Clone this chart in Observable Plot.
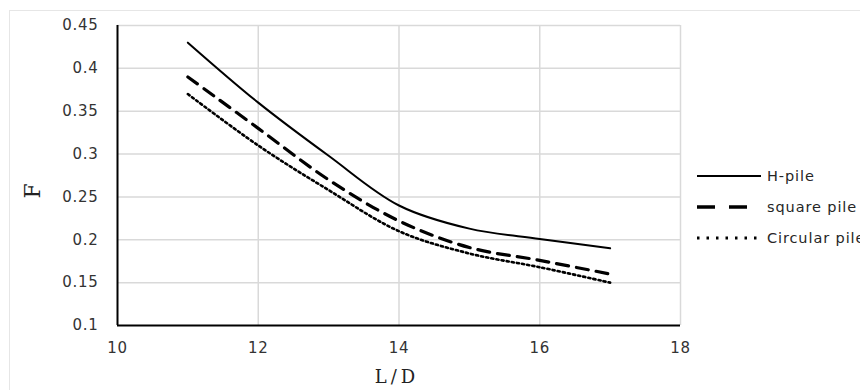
<!DOCTYPE html>
<html>
<head>
<meta charset="utf-8">
<script src="https://cdn.jsdelivr.net/npm/d3@7"></script>
<script src="https://cdn.jsdelivr.net/npm/@observablehq/plot@0.6"></script>
<style>
  html, body { margin: 0; padding: 0; background: #fff; }
  #wrap { position: relative; width: 860px; height: 390px; overflow: hidden; }
  #frame { position: absolute; left: 9px; top: 10px; width: 900px; height: 420px; border: 1px solid #e6e6e6; box-sizing: border-box; }
  #chart { position: absolute; left: 0; top: 0; }
  #legend { position: absolute; left: 697px; top: 160px; font-family: "DejaVu Sans", sans-serif; font-size: 14.5px; letter-spacing: 0.9px; color: #262626; white-space: nowrap; }
  .item { display: flex; align-items: center; height: 31px; }
  .item svg { margin-right: 6px; }
</style>
</head>
<body>
<div id="wrap">
  <div id="frame"></div>
  <div id="chart"></div>
  <div id="legend"></div>
</div>
<script>
const ld = [11, 12, 13, 14, 15, 16, 17];
const hPile = [0.43, 0.36, 0.298, 0.24, 0.213, 0.201, 0.19];
const squarePile = [0.39, 0.33, 0.27, 0.222, 0.191, 0.176, 0.16];
const circularPile = [0.37, 0.31, 0.258, 0.21, 0.184, 0.168, 0.15];
const seriesNames = ["H-pile", "square pile", "Circular pile"];
const xTicks = [10, 12, 14, 16, 18];
const yTicks = [0.1, 0.15, 0.2, 0.25, 0.3, 0.35, 0.4, 0.45];

const styles = {
  "H-pile": {strokeWidth: 2, dash: null},
  "square pile": {strokeWidth: 3.2, dash: "12,8"},
  "Circular pile": {strokeWidth: 2.6, dash: "2.2,3"}
};
const values = [hPile, squarePile, circularPile];
const data = seriesNames.flatMap((s, i) => ld.map((x, j) => ({series: s, x, y: values[i][j]})));

const fmt = d => String(+d.toFixed(2));

const chart = Plot.plot({
  width: 860,
  height: 390,
  marginLeft: 117,
  marginRight: 180,
  marginTop: 25,
  marginBottom: 65,
  style: {background: "transparent", fontFamily: "DejaVu Sans, sans-serif", fontSize: "15px", color: "#333", letterSpacing: "0.7px"},
  x: {domain: [10, 18], ticks: xTicks},
  y: {domain: [0.1, 0.45], ticks: yTicks},
  marks: [
    Plot.gridX(xTicks.filter(d => d > 10), {stroke: "#d9d9d9", strokeOpacity: 1, strokeWidth: 1.5}),
    Plot.gridY(yTicks.filter(d => d > 0.1), {stroke: "#d9d9d9", strokeOpacity: 1, strokeWidth: 1.5}),
    Plot.axisX({ticks: xTicks, tickSize: 0, tickPadding: 17, tickFormat: d => String(d), fontSize: 15, label: null, fill: "#333"}),
    Plot.axisY({ticks: yTicks, tickSize: 0, tickPadding: 19, tickFormat: fmt, fontSize: 15, label: null, fill: "#333"}),
    Plot.ruleX([10], {stroke: "#000", strokeWidth: 2}),
    Plot.ruleY([0.1], {stroke: "#000", strokeWidth: 2}),
    ...seriesNames.map(s => Plot.line(data.filter(d => d.series === s), {
      x: "x", y: "y", curve: "catmull-rom", stroke: "#000",
      strokeWidth: styles[s].strokeWidth, strokeDasharray: styles[s].dash
    })),
    Plot.text(["L/D"], {frameAnchor: "bottom", dx: -2, dy: 57, fontFamily: "DejaVu Serif, serif", fontSize: 18, fill: "#222"}),
    Plot.text(["F"], {frameAnchor: "left", dx: -85, dy: 23, rotate: -90, fontFamily: "DejaVu Serif, serif", fontSize: 22, fill: "#222"})
  ]
});
document.getElementById("chart").appendChild(chart);
// letter spacing for the L/D title
d3.select(chart).selectAll("text").filter(function() { return this.textContent === "L/D"; }).style("letter-spacing", "4px");

const legend = document.getElementById("legend");
const legendDash = {"H-pile": null, "square pile": "18,14", "Circular pile": "2.5,7"};
const legendW = {"H-pile": 2, "square pile": 3.4, "Circular pile": 2.8};
seriesNames.forEach(s => {
  const item = document.createElement("div");
  item.className = "item";
  const ns = "http://www.w3.org/2000/svg";
  const svg = document.createElementNS(ns, "svg");
  svg.setAttribute("width", 64); svg.setAttribute("height", 10);
  const ln = document.createElementNS(ns, "line");
  ln.setAttribute("x1", 0); ln.setAttribute("x2", 64);
  ln.setAttribute("y1", 5); ln.setAttribute("y2", 5);
  ln.setAttribute("stroke", "#000");
  ln.setAttribute("stroke-width", legendW[s]);
  if (legendDash[s]) ln.setAttribute("stroke-dasharray", legendDash[s]);
  svg.appendChild(ln);
  item.appendChild(svg);
  const t = document.createElement("span");
  t.textContent = s;
  item.appendChild(t);
  legend.appendChild(item);
});
</script>
</body>
</html>
